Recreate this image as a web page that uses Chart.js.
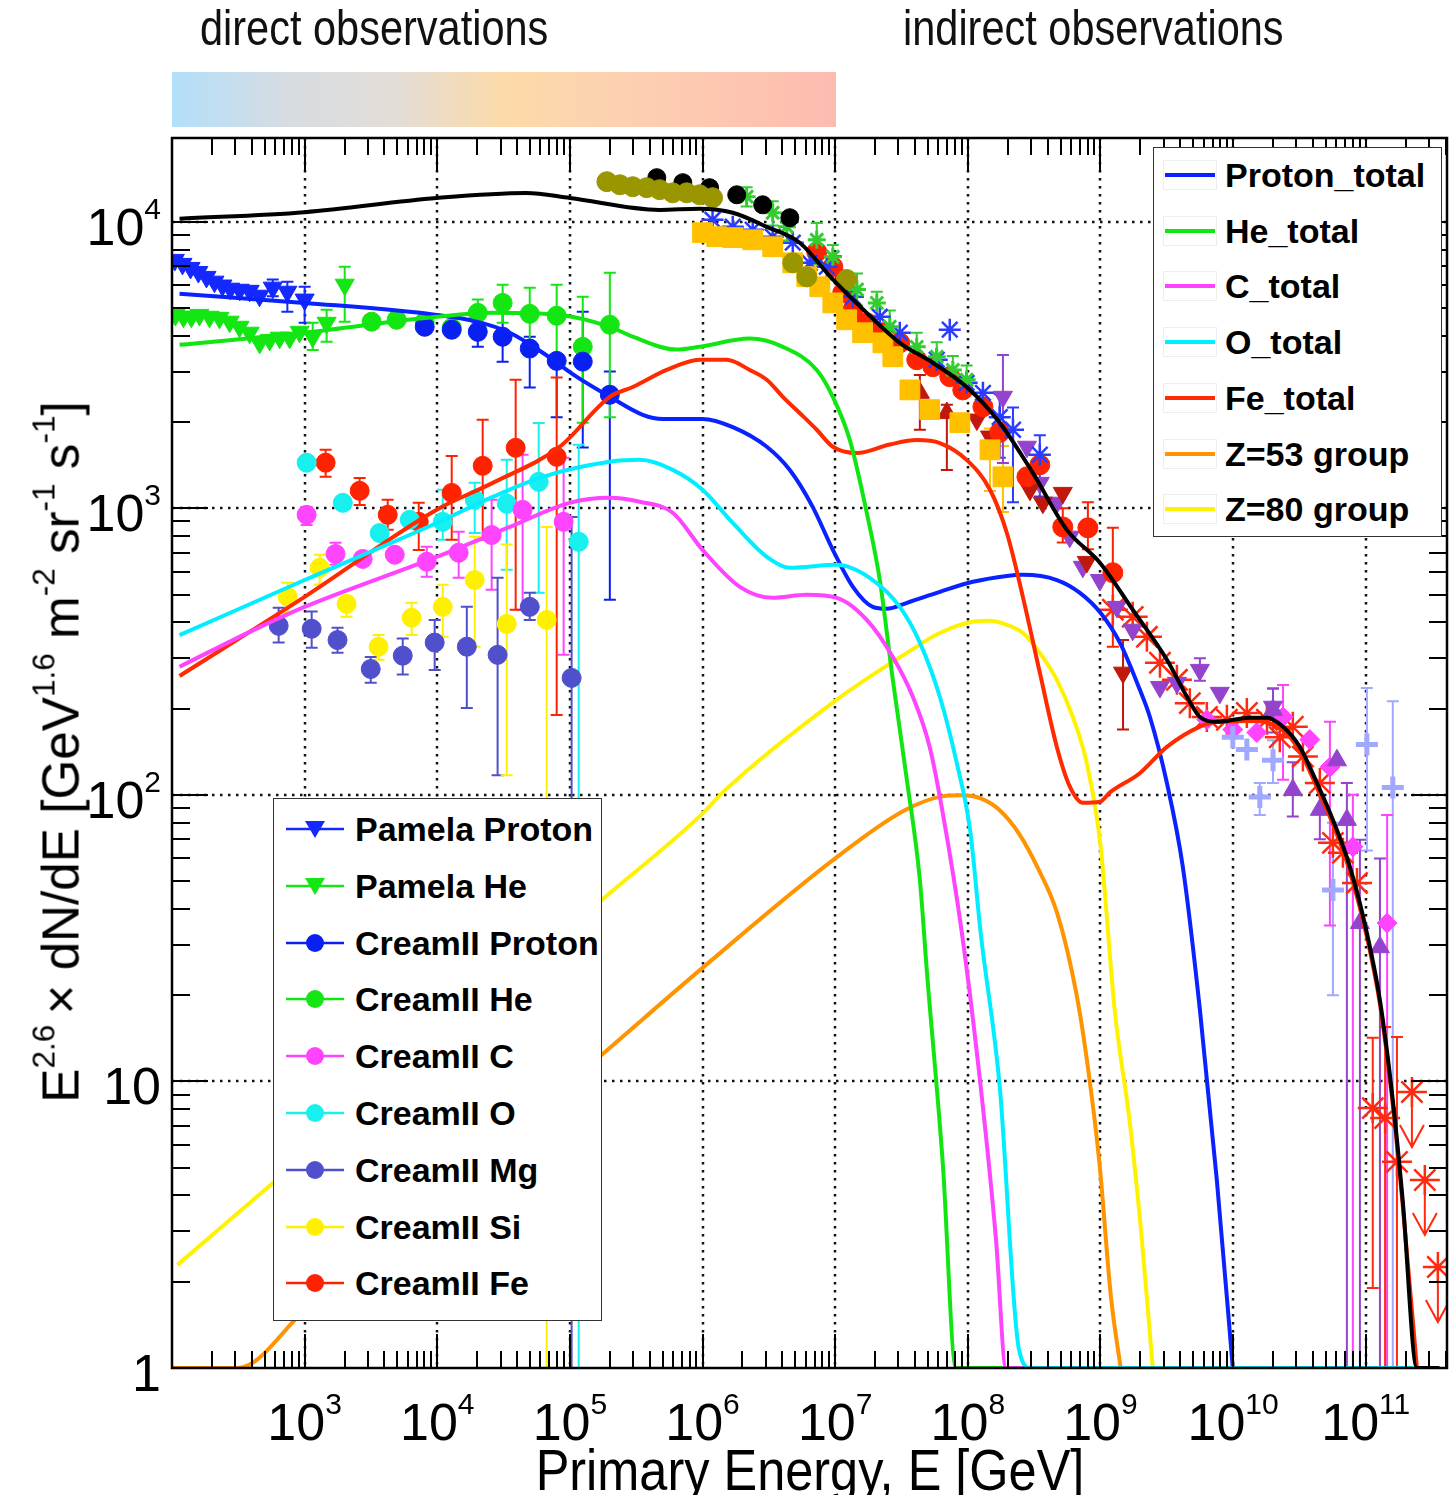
<!DOCTYPE html>
<html>
<head>
<meta charset="utf-8">
<script src="https://cdn.jsdelivr.net/npm/chart.js@4.4.1/dist/chart.umd.min.js"></script>
<style>
  body { margin: 0; background: #fff; }
  #wrap { position: relative; width: 1450px; height: 1495px; overflow: hidden; }
  #spectrum { position: absolute; left: 0; top: 0; }
  .narrow { font-family: "Liberation Sans Narrow", "Liberation Sans", Arial, sans-serif; }
  .band-label { position: absolute; top: 3px; font-size: 50px; line-height: 50px; color: #111; white-space: nowrap;
    transform: scaleX(0.83); transform-origin: 0 0; }
  #band { position: absolute; left: 172px; top: 72px; width: 664px; height: 55px;
    background: linear-gradient(to right, #b2dffa 0%, #d6dce2 17%, #e3ddd6 34%, #fcdaa8 50%, #fdcfb2 70%, #fdbbb0 100%); }
  .tick { position: absolute; font-family: "Liberation Sans", Arial, sans-serif; font-size: 52px; line-height: 52px; color: #000; white-space: nowrap; }
  .tick .sup { font-size: 30px; position: relative; top: -26px; }
  #xtitle { position: absolute; left: 810px; top: 1441px; transform: translateX(-50%) scaleX(0.87); font-size: 58px; line-height: 58px; white-space: nowrap; }
  #ytitle { position: absolute; left: 64px; top: 752px; transform: translate(-50%, -50%) rotate(-90deg) scaleX(0.985); font-size: 52px; line-height: 52px; white-space: nowrap; }
  #ytitle .sup { font-size: 32px; position: relative; top: -24px; }
  .legend { position: absolute; background: #fff; border: 1.5px solid #333; box-sizing: border-box;
    font-family: "Liberation Sans", Arial, sans-serif; font-weight: bold; font-size: 34px; color: #000; }
  .legend .row { position: absolute; left: 0; height: 40px; white-space: nowrap; }
  .legend svg { position: absolute; top: 5px; }
  .legend span { position: absolute; top: 0; line-height: 40px; }
</style>
</head>
<body>
<div id="wrap">
  <canvas id="spectrum" width="1450" height="1495"></canvas>
  <div class="band-label narrow" style="left:200px">direct observations</div>
  <div class="band-label narrow" style="left:903px">indirect observations</div>
  <div id="band"></div>
  <div id="xtitle" class="narrow">Primary Energy, E [GeV]</div>
  <div id="ytitle" class="narrow">E<span class="sup">2.6</span>&#8201;× dN/dE [GeV<span class="sup">1.6</span> m<span class="sup">-2</span> sr<span class="sup">-1</span> s<span class="sup">-1</span>]</div>
  <div id="legendModels" class="legend" style="left:1153px; top:147px; width:289px; height:390px;"></div>
  <div id="legendDirect" class="legend" style="left:273px; top:798px; width:329px; height:523px;"></div>
</div>
<script>
// axis labels
const xTickExps = [3, 4, 5, 6, 7, 8, 9, 10, 11];
const yTickExps = [0, 1, 2, 3, 4];

// ---- model curves (E in GeV, E^2.6 dN/dE) ----
const totalE = [114, 1e3, 9.9e3, 4.7e4, 1e5, 4.75e5, 9.5e5, 1.69e6, 3.05e6, 5.4e6, 9.6e6, 1.73e7, 3.07e7, 5.45e7, 9.8e7, 1.74e8, 3.09e8, 5.58e8, 9.9e8, 1.75e9, 3.17e9, 4.49e9, 5.62e9, 7.55e9, 1.34e10, 1.8e10, 2.38e10, 3.19e10, 4.29e10, 5.66e10, 7.6e10, 1.02e11, 1.28e11, 1.6e11, 1.9e11, 2.43e11, 3.6e11];
const totalFlux = [10240, 10800, 12100, 12600, 12100, 11000, 11100, 10750, 9600, 8450, 6290, 4810, 3780, 3220, 2650, 1990, 1330, 841, 646, 443, 296, 220, 187, 180, 186, 186, 173, 147, 110, 81.8, 56.1, 33, 19.2, 8.6, 3.85, 1, 1];

const protonE = [114, 1e3, 9.9e3, 1.98e4, 3.52e4, 6.24e4, 1.12e5, 2e5, 3.54e5, 5.01e5, 1e6, 1.69e6, 3.05e6, 4.55e6, 6.78e6, 9.6e6, 1.36e7, 1.92e7, 2.45e7, 3.47e7, 6.15e7, 1.09e8, 1.97e8, 2.6e8, 4.69e8, 7e8, 1e9, 1.4e9, 1.98e9, 2.36e9, 3.17e9, 4.18e9, 5.62e9, 7.55e9, 9.95e9];
const protonFlux = [5610, 5210, 4730, 4480, 4100, 3490, 2880, 2450, 2120, 2050, 2050, 1920, 1640, 1360, 1010, 716, 532, 453, 446, 468, 511, 554, 581, 586, 562, 507, 432, 340, 233, 187, 110, 56, 17.8, 4.5, 1];

const heliumE = [114, 1e3, 9.9e3, 2.62e4, 8.37e4, 2e5, 2.98e5, 6.38e5, 9.5e5, 2.27e6, 4.03e6, 7.26e6, 9.6e6, 1.29e7, 1.73e7, 2.17e7, 2.72e7, 3.47e7, 4.35e7, 4.91e7, 6.47e7, 8.13e7, 1.94e8];
const heliumFlux = [3720, 4100, 4660, 4810, 4730, 4300, 3970, 3580, 3660, 3910, 3660, 3040, 2450, 1730, 965, 562, 252, 113, 50.5, 24.3, 5.2, 1, 1];

const carbonE = [114, 458, 1e3, 9.9e3, 3.52e4, 9.95e4, 2e5, 3.36e5, 5.96e5, 1e6, 1.91e6, 3.38e6, 6.1e6, 1.03e7, 1.73e7, 2.72e7, 3.85e7, 5.16e7, 6.47e7, 9.02e7, 1.25e8, 1.63e8, 1.94e8, 2.99e8];
const carbonFlux = [280, 385, 453, 677, 861, 1045, 1088, 1054, 965, 716, 532, 487, 499, 487, 408, 303, 220, 147, 86.5, 33, 9.6, 2.82, 1, 1];

const oxygenE = [114, 1e3, 9.9e3, 2.62e4, 6.24e4, 2e5, 3.36e5, 5.96e5, 1e6, 1.69e6, 3.05e6, 4.55e6, 1.03e7, 1.92e7, 3.07e7, 4.35e7, 6.15e7, 8.26e7, 1.04e8, 1.25e8, 1.74e8, 2.43e8, 2.99e8, 2.27e11];
const oxygenFlux = [361, 562, 889, 1096, 1288, 1453, 1476, 1362, 1161, 889, 677, 620, 635, 562, 453, 340, 220, 129, 75.5, 33, 9.6, 1.16, 1, 1];

const ironE = [114, 1e3, 9.9e3, 2.62e4, 8.37e4, 2e5, 2.98e5, 5.37e5, 9.5e5, 1.52e6, 2.27e6, 3.05e6, 4.03e6, 5.4e6, 7.26e6, 9.6e6, 1.46e7, 2.58e7, 4.12e7, 6.15e7, 9.8e7, 1.47e8, 1.97e8, 2.6e8, 3.49e8, 4.69e8, 5.87e8, 7.36e8, 9.9e8, 1.18e9, 1.98e9, 3.17e9, 5.62e9, 7.55e9, 1.34e10, 2.38e10, 3.19e10, 4.29e10, 5.66e10, 7.6e10, 1.02e11, 1.28e11, 1.6e11, 1.9e11, 2.43e11];
const ironFlux = [260, 491, 989, 1227, 1640, 2450, 2650, 3040, 3300, 3300, 3040, 2810, 2450, 2150, 1880, 1640, 1560, 1670, 1730, 1690, 1476, 1161, 820, 491, 267, 147, 107, 93.8, 94.6, 102, 119, 147, 173, 180, 181, 168, 142, 106, 79, 54, 32, 18.6, 8.3, 3.7, 1];

const z53E = [100, 313, 1e3, 9.9e3, 1e5, 1.74e5, 1.01e6, 1e7, 3.32e7, 6.44e7, 8.97e7, 1.25e8, 1.74e8, 2.43e8, 3.37e8, 4.73e8, 6.59e8, 8.04e8, 9.82e8, 1.2e9, 1.42e9];
const z53Flux = [1, 1, 1.59, 3.98, 9.96, 12.4, 25, 60, 88.2, 98.8, 99.6, 97.2, 88.4, 73.3, 55.6, 38.5, 20.2, 11.2, 5.2, 1.77, 1];

const z80E = [110, 1e3, 9.9e3, 9.95e4, 1.74e5, 1e6, 1.42e6, 1.03e7, 3.47e7, 6.15e7, 1.09e8, 1.47e8, 1.97e8, 2.6e8, 3.49e8, 4.69e8, 6.19e8, 7.89e8, 1e9, 1.28e9, 1.67e9, 2.05e9, 2.48e9];
const z80Flux = [2.29, 5.5, 13.7, 34.4, 43, 86, 102, 215, 313, 367, 402, 405, 392, 367, 313, 252, 187, 129, 67, 17.8, 7.1, 2.82, 1];

// ---- direct measurements ----
const pamProtonE = [105, 120, 138, 158, 182, 209, 240, 275, 324, 385, 457, 575, 741, 1000];
const pamProtonFlux = [7360, 7130, 6900, 6680, 6420, 6180, 5990, 5840, 5790, 5740, 5520, 5890, 5700, 5350];
const pamProtonHi = [null, null, null, null, null, null, null, null, null, null, null, 6290, 6180, 5930];
const pamProtonLo = [null, null, null, null, null, null, null, null, null, null, null, 5500, 4850, 4440];

const pamHeE = [106, 122, 140, 161, 192, 228, 272, 323, 385, 458, 545, 648, 771, 916, 1150, 1465, 2005];
const pamHeFlux = [4730, 4660, 4660, 4730, 4660, 4620, 4480, 4300, 4100, 3780, 3870, 3940, 3940, 4130, 3970, 4440, 6030];
const pamHeHi = [null, null, null, null, null, null, null, null, null, null, null, null, null, null, 4440, 4930, 6960];
const pamHeLo = [null, null, null, null, null, null, null, null, null, null, null, null, null, null, 3570, 3810, 4480];

const creamProtonE = [8040, 12850, 20200, 31100, 49800, 79500, 125000, 200000];
const creamProtonFlux = [4300, 4200, 4130, 3970, 3610, 3270, 3250, 2490];
const creamProtonHi = [null, null, 4440, 4850, 3970, 3300, 4850, 3000];
const creamProtonLo = [null, null, 3660, 3250, 2640, 2080, 1630, 480];

const creamHeE = [3200, 4940, 8040, 12850, 20200, 31100, 49800, 79500, 125000, 200000];
const creamHeFlux = [4480, 4550, 4480, 4270, 4810, 5210, 4770, 4700, 3660, 4370];
const creamHeHi = [null, null, null, null, 5350, 6030, 5890, 6030, 5470, 6640];
const creamHeLo = [null, null, null, null, 4440, 4440, 3780, 3300, 1990, 2080];

const creamCE = [1035, 1710, 2740, 4780, 8330, 14500, 25700, 44000, 89700];
const creamCFlux = [949, 693, 666, 689, 651, 700, 807, 988, 897];
const creamCHi = [1011, 759, null, null, 735, 828, 1071, 1538, 1500];
const creamCLo = [875, 635, null, null, 577, 572, 520, 443, 308];

const creamOE = [1035, 1940, 3680, 6200, 11000, 19150, 33400, 58200, 116500];
const creamOFlux = [1443, 1045, 820, 912, 897, 1071, 1038, 1237, 764];
const creamOHi = [null, null, null, null, 1161, 1227, 1476, 1985, 1668];
const creamOLo = [null, null, null, null, 776, 820, 610, 507, 0.5];

const creamMgE = [637, 1130, 1770, 3150, 5490, 9560, 16700, 28500, 49800, 103000];
const creamMgFlux = [389, 380, 347, 275, 306, 340, 329, 308, 453, 256];
const creamMgHi = [450, 436, 383, 303, 351, 408, 453, 572, 507, 933];
const creamMgLo = [340, 326, 313, 246, 263, 273, 201, 117, 408, 0.5];

const creamSiE = [745, 1300, 2070, 3610, 6410, 11000, 19150, 33400, 66800];
const creamSiFlux = [491, 620, 464, 329, 415, 453, 562, 395, 408];
const creamSiHi = [550, 689, 491, 361, 468, 541, 796, 747, 861];
const creamSiLo = [432, 541, 418, 296, 361, 356, 329, 117, 0.5];

const creamFeE = [1440, 2600, 4230, 7250, 12850, 22000, 39000, 79500];
const creamFeFlux = [1443, 1151, 949, 897, 1132, 1407, 1626, 1513];
const creamFeHi = [1600, 1276, 1071, 1046, 1524, 2037, 2810, 2860];
const creamFeLo = [1288, 1028, 841, 716, 776, 776, 443, 190];

// ---- air shower measurements ----
const oliveE = [1.9e5, 2.38e5, 2.98e5, 3.79e5, 4.75e5, 5.96e5, 7.6e5, 9.5e5, 1.19e6, 4.79e6, 6.11e6, 1.22e7];
const oliveFlux = [13800, 13460, 13250, 13150, 12940, 12620, 12620, 12420, 12130, 7190, 6420, 6290];

const blackDotE = [4.52e5, 7.1e5, 1.13e6, 1.81e6, 2.84e6, 4.55e6];
const blackDotFlux = [14250, 13690, 13150, 12420, 11460, 10330];

const greenStarE = [2.15e6, 3.38e6, 4.32e6, 7.26e6, 9.6e6, 1.46e7, 2.06e7, 2.58e7, 4.12e7, 5.83e7, 7.71e7, 9.8e7];
const greenStarFlux = [12230, 10750, 9610, 8650, 7550, 5800, 5210, 4300, 3660, 3380, 3040, 2810];
const greenStarHi = [13200, 11800, 10700, 9900, 8300, 6600, 5700, 4900, 4100, 3800, 3400, 3150];
const greenStarLo = [11300, 9700, 8600, 7100, 6800, 5100, 4700, 3700, 3200, 3000, 2700, 2500];

const blueAstE = [1.19e6, 1.69e6, 2.39e6, 3.38e6, 4.79e6, 6.43e6, 8.65e6, 1.36e7, 2.17e7, 3.07e7, 5.83e7, 7.31e7, 9.8e7, 1.3e8, 1.74e8, 2.19e8, 3.49e8];
const blueAstFlux = [10160, 9610, 9380, 8870, 8450, 7190, 6960, 5470, 4660, 4100, 3300, 4200, 2740, 2530, 2080, 1880, 1538];
const blueAstHi = [null, null, null, null, null, null, null, null, null, null, null, null, null, null, 2500, 2250, 1800];
const blueAstLo = [null, null, null, null, null, null, null, null, null, null, null, null, null, null, 1500, 1050, 1100];

const goldSqE = [1e6, 1.28e6, 1.69e6, 2.39e6, 3.38e6, 4.79e6, 6.11e6, 7.66e6, 9.6e6, 1.22e7, 1.61e7, 2.29e7, 2.72e7, 3.66e7, 5.16e7, 8.71e7, 1.47e8, 1.84e8];
const goldSqFlux = [9160, 8870, 8800, 8650, 8180, 7190, 6430, 5930, 5210, 4550, 4100, 3780, 3380, 2590, 2210, 1990, 1600, 1288];
const goldSqHi = [null, null, null, null, null, null, null, null, null, null, null, null, null, null, null, null, 1900, 1650];
const goldSqLo = [null, null, null, null, null, null, null, null, null, null, null, null, null, null, null, null, 1150, 970];

const redDotE = [7.26e6, 9.6e6, 1.14e7, 1.36e7, 1.73e7, 2.29e7, 3.07e7, 4.12e7, 5.45e7, 7.31e7, 9.16e7, 1.3e8, 1.74e8, 2.79e8, 3.49e8, 5.2e8, 8.04e8, 1.24e9];
const redDotFlux = [7850, 6960, 5650, 4930, 4440, 4100, 3780, 3300, 3120, 2880, 2590, 2260, 1840, 1288, 1418, 861, 855, 596];
const redDotHi = [null, null, null, null, null, null, null, null, null, null, null, null, null, null, null, 1000, 1050, 855];
const redDotLo = [null, null, null, null, null, null, null, null, null, null, null, null, null, null, null, 760, 720, 329];

const darkUpE = [1.01e7, 4.35e7, 6.95e7];
const darkUpFlux = [6900, 2530, 2150];
const darkUpHi = [7600, 2920, 2300];
const darkUpLo = [6300, 1880, 1360];

const darkDownE = [1.17e8, 1.47e8, 2.94e8, 3.68e8, 5.2e8, 7.89e8, 1.48e9];
const darkDownFlux = [2040, 1780, 1161, 1046, 1132, 650, 267];
const darkDownHi = [null, null, null, null, null, null, 347];
const darkDownLo = [null, null, null, null, null, null, 169];

const purpleDownE = [1.84e8, 2.79e8, 3.49e8, 4.69e8, 5.87e8, 7.36e8, 9.9e8, 1.33e9, 1.75e9, 2.81e9, 3.77e9, 5.62e9, 7.94e9, 2e10];
const purpleDownFlux = [2450, 1640, 1227, 1046, 796, 625, 562, 453, 377, 238, 246, 273, 227, 203];
const purpleDownHi = [3430, null, null, null, null, null, null, null, null, null, null, 300, null, 235];
const purpleDownLo = [1440, null, null, null, null, null, null, null, null, null, null, 250, null, 175];

const redAstE = [1.24e9, 1.75e9, 2.24e9, 2.81e9, 3.77e9, 4.72e9, 6.34e9, 8.98e9, 1.27e10, 1.8e10, 2.25e10, 2.82e10, 3.36e10, 4.51e10, 5.66e10, 6.73e10, 8.59e10, 1.13e11, 1.4e11, 1.72e11];
const redAstFlux = [443, 418, 356, 289, 252, 209, 187, 183, 193, 183, 159, 173, 136, 110, 68, 62.8, 49.3, 8.07, 7.46, 5.24];
const redAstHi = [null, null, null, null, null, null, null, null, null, null, null, null, null, null, null, null, null, 14.2, 15.5, 14.3];
const redAstLo = [null, null, null, null, null, null, null, null, null, null, null, null, null, null, null, null, null, 1.9, 0.5, 0.5];
const redLimitE = [2.23e11, 2.79e11, 3.5e11];
const redLimitFlux = [9.18, 4.53, 2.25];

const magDiamondE = [6.34e9, 9.95e9, 1.51e10, 2.38e10, 3.79e10, 5.37e10, 8e10, 1.45e11];
const magDiamondFlux = [183, 169, 165, 187, 156, 125, 65.9, 35.7];
const magDiamondHi = [null, null, null, 242, null, 180, 100, 85];
const magDiamondLo = [null, null, null, 113, null, 35, 0.5, 0.5];

const purpleUpE = [2e10, 2.82e10, 4.51e10, 6.07e10, 7.21e10, 9.04e10, 1.28e11];
const purpleUpFlux = [198, 104, 88.7, 132, 81.8, 35.7, 29.4];
const purpleUpHi = [235, 130, 110, null, 110, 69.7, 60];
const purpleUpLo = [165, 84, 70, null, 0.5, 0.5, 0.5];

const crossE = [9.95e9, 1.27e10, 1.59e10, 2e10, 5.66e10, 1.02e11, 1.6e11];
const crossFlux = [159, 144, 98.4, 132, 46.6, 150, 106];
const crossHi = [null, null, 110, 155, 80, 236, 212];
const crossLo = [null, null, 85, 110, 20, 64, 0.5];

function pts(xs, ys) {
  return xs.map((x, i) => ({ x: x, y: ys[i] }));
}

function curve(label, xs, ys, color, order) {
  return {
    type: 'line', label: label, data: pts(xs, ys),
    borderColor: color, backgroundColor: color, borderWidth: 4,
    pointRadius: 0, cubicInterpolationMode: 'monotone', fill: false, order: order
  };
}

function markers(label, xs, ys, color, style, radius, extra) {
  return Object.assign({
    type: 'scatter', label: label, data: pts(xs, ys),
    pointStyle: style, pointRadius: radius, backgroundColor: color, borderColor: color,
    borderWidth: 1, order: 10
  }, extra || {});
}

const C = {
  proton: '#0a22ff', he: '#12e612', c: '#ff44ff', o: '#00eeff', fe: '#ff2a00',
  z53: '#ff9400', z80: '#fff200', mg: '#5050cc'
};

const datasets = [
  curve('total', totalE, totalFlux, '#000', 0),
  curve('O_total', oxygenE, oxygenFlux, C.o, 1),
  curve('C_total', carbonE, carbonFlux, C.c, 2),
  curve('He_total', heliumE, heliumFlux, C.he, 3),
  curve('Fe_total', ironE, ironFlux, C.fe, 4),
  curve('Proton_total', protonE, protonFlux, C.proton, 5),
  curve('Z=80 group', z80E, z80Flux, C.z80, 6),
  curve('Z=53 group', z53E, z53Flux, C.z53, 7),

  markers('Pamela Proton', pamProtonE, pamProtonFlux, '#1428ff', 'triangle', 11, { pointRotation: 180, errHi: pamProtonHi, errLo: pamProtonLo }),
  markers('Pamela He', pamHeE, pamHeFlux, '#14e614', 'triangle', 11, { pointRotation: 180, errHi: pamHeHi, errLo: pamHeLo }),
  markers('CreamII Proton', creamProtonE, creamProtonFlux, '#0a20f0', 'circle', 9.5, { errHi: creamProtonHi, errLo: creamProtonLo }),
  markers('CreamII He', creamHeE, creamHeFlux, '#14e614', 'circle', 9.5, { errHi: creamHeHi, errLo: creamHeLo }),
  markers('CreamII C', creamCE, creamCFlux, '#ff44ff', 'circle', 9.5, { errHi: creamCHi, errLo: creamCLo }),
  markers('CreamII O', creamOE, creamOFlux, '#18f0f0', 'circle', 9.5, { errHi: creamOHi, errLo: creamOLo }),
  markers('CreamII Mg', creamMgE, creamMgFlux, C.mg, 'circle', 9.5, { errHi: creamMgHi, errLo: creamMgLo }),
  markers('CreamII Si', creamSiE, creamSiFlux, '#fff000', 'circle', 9.5, { errHi: creamSiHi, errLo: creamSiLo }),
  markers('CreamII Fe', creamFeE, creamFeFlux, '#ff2200', 'circle', 9.5, { errHi: creamFeHi, errLo: creamFeLo }),

  markers('olive', oliveE, oliveFlux, '#9a9600', 'circle', 10),
  markers('black', blackDotE, blackDotFlux, '#000', 'circle', 9),
  markers('gold', goldSqE, goldSqFlux, '#ffc000', 'rect', 14, { errHi: goldSqHi, errLo: goldSqLo }),
  markers('green', greenStarE, greenStarFlux, '#33cc33', 'star', 9, { borderWidth: 3, errHi: greenStarHi, errLo: greenStarLo }),
  markers('blue', blueAstE, blueAstFlux, '#2a3cff', 'star', 11, { borderWidth: 2.5, errHi: blueAstHi, errLo: blueAstLo }),
  markers('red dots', redDotE, redDotFlux, '#ff2200', 'circle', 10, { errHi: redDotHi, errLo: redDotLo }),
  markers('dark up', darkUpE, darkUpFlux, '#c0180a', 'triangle', 11, { errHi: darkUpHi, errLo: darkUpLo }),
  markers('dark down', darkDownE, darkDownFlux, '#c0180a', 'triangle', 11, { pointRotation: 180, errHi: darkDownHi, errLo: darkDownLo }),
  markers('purple down', purpleDownE, purpleDownFlux, '#9444cc', 'triangle', 11, { pointRotation: 180, errHi: purpleDownHi, errLo: purpleDownLo }),
  markers('cross', crossE, crossFlux, '#a0a8ff', 'cross', 11, { borderWidth: 5, errHi: crossHi, errLo: crossLo }),
  markers('purple up', purpleUpE, purpleUpFlux, '#9444cc', 'triangle', 11, { errHi: purpleUpHi, errLo: purpleUpLo }),
  markers('diamond', magDiamondE, magDiamondFlux, '#ff44ff', 'rectRot', 10, { errHi: magDiamondHi, errLo: magDiamondLo }),
  markers('red star', redAstE, redAstFlux, '#ff2a10', 'star', 15, { borderWidth: 2.5, errHi: redAstHi, errLo: redAstLo }),
  markers('red limit', redLimitE, redLimitFlux, '#ff2a10', 'star', 15, { borderWidth: 2.5, limitArrows: true })
];

// dotted decade grid
const decadeGrid = {
  id: 'decadeGrid',
  beforeDatasetsDraw(chart) {
    const { ctx, chartArea: a, scales: { x, y } } = chart;
    ctx.save();
    ctx.strokeStyle = '#111';
    ctx.lineWidth = 2.5;
    ctx.setLineDash([2.5, 5.5]);
    ctx.beginPath();
    xTickExps.forEach(e => {
      const px = Math.round(x.getPixelForValue(Math.pow(10, e)));
      ctx.moveTo(px, a.top); ctx.lineTo(px, a.bottom);
    });
    yTickExps.forEach(e => {
      if (e === 0) return;
      const py = Math.round(y.getPixelForValue(Math.pow(10, e)));
      ctx.moveTo(a.left, py); ctx.lineTo(a.right, py);
    });
    ctx.stroke();
    ctx.restore();
  }
};

// vertical error bars and upper-limit arrows
const errorBars = {
  id: 'errorBars',
  beforeDatasetsDraw(chart) {
    const { ctx, chartArea: a, scales: { x, y } } = chart;
    ctx.save();
    ctx.beginPath();
    ctx.rect(a.left, a.top, a.right - a.left, a.bottom - a.top);
    ctx.clip();
    ctx.lineWidth = 2;
    chart.data.datasets.forEach(ds => {
      if (!ds.errHi && !ds.limitArrows) return;
      ctx.strokeStyle = ds.borderColor;
      ds.data.forEach((p, i) => {
        const px = x.getPixelForValue(p.x);
        ctx.beginPath();
        if (ds.limitArrows) {
          const py = y.getPixelForValue(p.y);
          ctx.moveTo(px, py); ctx.lineTo(px, py + 55);
          ctx.moveTo(px - 12, py + 33); ctx.lineTo(px, py + 55); ctx.lineTo(px + 12, py + 33);
          ctx.stroke();
          return;
        }
        const hi = ds.errHi[i], lo = ds.errLo[i];
        if (hi == null) return;
        const yh = y.getPixelForValue(hi);
        const yl = lo >= y.min ? y.getPixelForValue(lo) : a.bottom + 5;
        ctx.moveTo(px, yh); ctx.lineTo(px, yl);
        ctx.moveTo(px - 6, yh); ctx.lineTo(px + 6, yh);
        if (lo >= y.min) { ctx.moveTo(px - 6, yl); ctx.lineTo(px + 6, yl); }
        ctx.stroke();
      });
    });
    ctx.restore();
  }
};

// frame with inward ticks on all four sides
const frameTicks = {
  id: 'frameTicks',
  afterDatasetsDraw(chart) {
    const { ctx, chartArea: a, scales: { x, y } } = chart;
    ctx.save();
    ctx.strokeStyle = '#000';
    ctx.lineWidth = 2;
    ctx.beginPath();
    for (let d = 2; d <= 11; d++) {
      for (let m = 1; m <= 9; m++) {
        const v = m * Math.pow(10, d);
        if (v <= x.min || v >= x.max) continue;
        const px = Math.round(x.getPixelForValue(v));
        const len = m === 1 ? 34 : 17;
        ctx.moveTo(px, a.bottom); ctx.lineTo(px, a.bottom - len);
        ctx.moveTo(px, a.top); ctx.lineTo(px, a.top + len);
      }
    }
    for (let d = 0; d <= 4; d++) {
      for (let m = 1; m <= 9; m++) {
        const v = m * Math.pow(10, d);
        if (v <= y.min || v >= y.max) continue;
        const py = Math.round(y.getPixelForValue(v));
        const len = m === 1 ? 36 : 18;
        ctx.moveTo(a.left, py); ctx.lineTo(a.left + len, py);
        ctx.moveTo(a.right, py); ctx.lineTo(a.right - len, py);
      }
    }
    ctx.stroke();
    ctx.lineWidth = 2.5;
    ctx.strokeRect(a.left, a.top, a.right - a.left, a.bottom - a.top);
    ctx.restore();
  }
};

const chart = new Chart(document.getElementById('spectrum'), {
  data: { datasets: datasets },
  options: {
    responsive: false,
    animation: false,
    devicePixelRatio: 1,
    events: [],
    layout: { autoPadding: false, padding: { left: 172, top: 138, right: 3, bottom: 127 } },
    scales: {
      x: { type: 'logarithmic', min: 100, max: 4.1e11, display: false },
      y: { type: 'logarithmic', min: 1, max: 19600, display: false }
    },
    plugins: { legend: { display: false }, tooltip: { enabled: false } }
  },
  plugins: [decadeGrid, errorBars, frameTicks]
});

// tick labels placed with the chart's own scales
const wrap = document.getElementById('wrap');
xTickExps.forEach(e => {
  const d = document.createElement('div');
  d.className = 'tick';
  d.innerHTML = '10<span class="sup">' + e + '</span>';
  d.style.left = chart.scales.x.getPixelForValue(Math.pow(10, e)) + 'px';
  d.style.top = '1396px';
  d.style.transform = 'translateX(-50%)';
  wrap.appendChild(d);
});
yTickExps.forEach(e => {
  const d = document.createElement('div');
  d.className = 'tick';
  d.innerHTML = e === 0 ? '1' : e === 1 ? '10' : '10<span class="sup">' + e + '</span>';
  d.style.right = (1450 - 161) + 'px';
  d.style.top = (chart.scales.y.getPixelForValue(Math.pow(10, e)) - 21) + 'px';
  wrap.appendChild(d);
});

// legends
const modelNames = ['Proton_total', 'He_total', 'C_total', 'O_total', 'Fe_total', 'Z=53 group', 'Z=80 group'];
const modelColors = [C.proton, C.he, C.c, C.o, C.fe, C.z53, C.z80];
const legendModels = document.getElementById('legendModels');
modelNames.forEach((name, i) => {
  const row = document.createElement('div');
  row.className = 'row';
  row.style.top = (7 + i * 55.7) + 'px';
  row.innerHTML = '<svg width="54" height="30" style="left:9px"><rect x="0.5" y="0.5" width="53" height="29" fill="none" stroke="#eee"/>' +
    '<line x1="2" y1="15" x2="52" y2="15" stroke="' + modelColors[i] + '" stroke-width="4"/></svg>' +
    '<span style="left:71px">' + name + '</span>';
  legendModels.appendChild(row);
});

const directNames = ['Pamela Proton', 'Pamela He', 'CreamII Proton', 'CreamII He', 'CreamII C', 'CreamII O', 'CreamII Mg', 'CreamII Si', 'CreamII Fe'];
const directColors = ['#1428ff', '#14e614', '#0a20f0', '#14e614', '#ff44ff', '#18f0f0', C.mg, '#fff000', '#ff2200'];
const directShapes = ['down', 'down', 'dot', 'dot', 'dot', 'dot', 'dot', 'dot', 'dot'];
const legendDirect = document.getElementById('legendDirect');
directNames.forEach((name, i) => {
  const col = directColors[i];
  const mark = directShapes[i] === 'down'
    ? '<polygon points="19,7 39,7 29,24" fill="' + col + '"/>'
    : '<circle cx="29" cy="15" r="9" fill="' + col + '"/>';
  const row = document.createElement('div');
  row.className = 'row';
  row.style.top = (10 + i * 56.8) + 'px';
  row.innerHTML = '<svg width="58" height="30" style="left:12px"><line x1="0" y1="15" x2="58" y2="15" stroke="' + col + '" stroke-width="2.5"/>' +
    mark + '</svg><span style="left:81px">' + name + '</span>';
  legendDirect.appendChild(row);
});
</script>
</body>
</html>
